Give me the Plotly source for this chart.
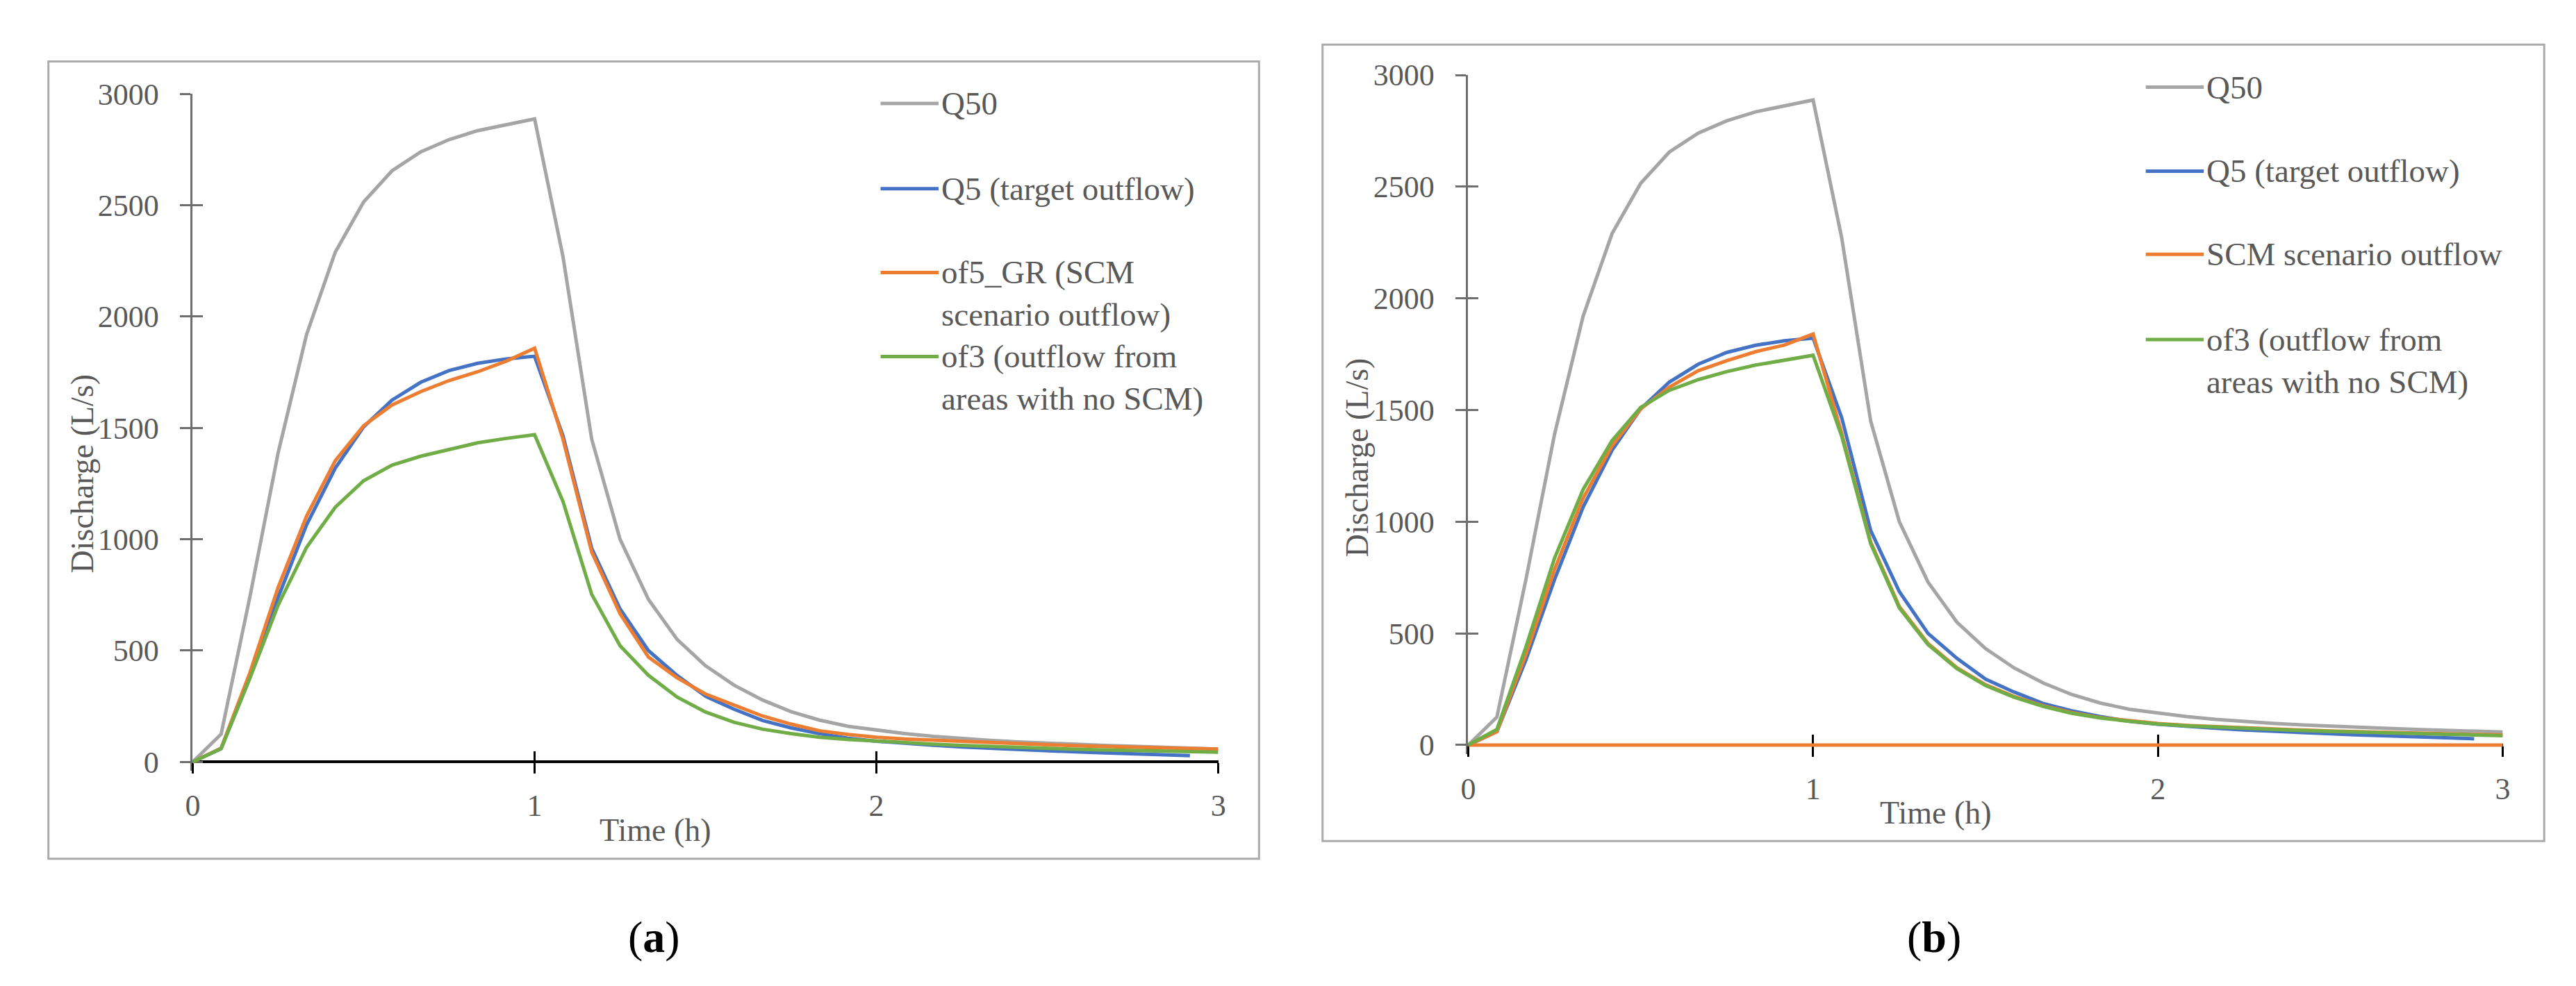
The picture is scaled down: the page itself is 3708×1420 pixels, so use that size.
import plotly.graph_objects as go

# time axis (h), 5-minute steps
time_h = [0, 0.083, 0.167, 0.25, 0.333, 0.417, 0.5, 0.583, 0.667, 0.75, 0.833, 0.917, 1.0,
          1.083, 1.167, 1.25, 1.333, 1.417, 1.5, 1.583, 1.667, 1.75, 1.833, 1.917, 2.0,
          2.083, 2.167, 2.25, 2.333, 2.417, 2.5, 2.583, 2.667, 2.75, 2.833, 2.917, 3.0]

# discharge (L/s), shared by both panels
q50 = [0, 125, 740, 1390, 1920, 2290, 2515, 2655, 2740, 2795, 2835, 2862, 2888,
       2270, 1450, 1000, 730, 550, 432, 345, 278, 226, 188, 160, 142,
       127, 115, 105, 97, 90, 84, 79, 74, 70, 66, 62, 58]
q5 = [0, 60, 380, 740, 1065, 1320, 1505, 1625, 1705, 1758, 1790, 1810, 1822,
      1465, 960, 687, 500, 388, 295, 237, 186, 153, 127, 106, 93,
      83, 75, 67, 61, 55, 50, 45, 41, 37, 33, 28, None]

# panel (a)
of5_gr = [0, 62, 400, 785, 1104, 1353, 1510, 1603, 1663, 1713, 1752, 1800, 1858,
          1450, 943, 666, 471, 378, 305, 256, 206, 170, 140, 123, 111,
          103, 97, 91, 86, 81, 77, 73, 69, 66, 63, 60, 58]
of3_a = [0, 60, 375, 705, 964, 1144, 1263, 1333, 1373, 1403, 1433, 1453, 1470,
         1170, 753, 522, 389, 291, 224, 178, 147, 127, 111, 101, 93,
         86, 80, 74, 69, 65, 61, 57, 54, 51, 48, 46, 44]

# panel (b)
scm_b = [0, 60, 405, 785, 1105, 1340, 1505, 1602, 1676, 1721, 1761, 1791, 1840,
         1395, 908, 620, 455, 346, 270, 217, 176, 145, 123, 108, 96,
         88, 82, 76, 71, 67, 63, 59, 56, 53, 50, 47, 45]
scm_b_base_t = [0, 3]
scm_b_base = [0, 0]
of3_b = [0, 70, 438, 836, 1144, 1363, 1512, 1588, 1636, 1672, 1701, 1725, 1745,
         1382, 901, 614, 450, 342, 266, 214, 173, 142, 121, 106, 94,
         86, 80, 74, 69, 65, 61, 57, 54, 51, 48, 45, 42]

x_ticks = [0, 1, 2, 3]
y_ticks = [0, 500, 1000, 1500, 2000, 2500, 3000]

GREY = '#A5A5A5'
BLUE = '#4472C4'
ORANGE = '#ED7D31'
GREEN = '#70AD47'
TXT = '#595959'
FONT = 'Liberation Serif'

W, H = 3708, 1420
Y_MIN = -40


def px(x):
    return x / W


def py(y):
    return 1 - y / H


fig = go.Figure()

# --------------------------
# traces
panels = [
    ('x', 'y', [('Q50', time_h, q50, GREY), ('Q5 (target outflow)', time_h, q5, BLUE),
                ('of5_GR (SCM scenario outflow)', time_h, of5_gr, ORANGE),
                ('of3 (outflow from areas with no SCM)', time_h, of3_a, GREEN)]),
    ('x2', 'y2', [('Q50', time_h, q50, GREY), ('Q5 (target outflow)', time_h, q5, BLUE),
                  ('SCM scenario outflow', time_h, scm_b, ORANGE),
                  ('SCM scenario outflow', scm_b_base_t, scm_b_base, ORANGE),
                  ('of3 (outflow from areas with no SCM)', time_h, of3_b, GREEN)]),
]
for xa, ya, series in panels:
    for name, xs, ys, col in series:
        fig.add_trace(go.Scatter(x=xs, y=ys, name=name, mode='lines', xaxis=xa, yaxis=ya,
                                 line=dict(color=col, width=5), showlegend=False))

# invisible traces so the overlay (cross-tick) axes get drawn
for xa, ya in [('x3', 'y3'), ('x4', 'y4')]:
    fig.add_trace(go.Scatter(x=time_h, y=q50, xaxis=xa, yaxis=ya, mode='lines',
                             opacity=0, hoverinfo='skip', showlegend=False))


# --------------------------
# axes
def x_main(domain, pos):
    return dict(domain=domain, range=[0, 3], anchor='free', position=pos,
                showline=True, linecolor='black', linewidth=4,
                ticks='outside', ticklen=15, tickwidth=3, tickcolor='black',
                tickvals=x_ticks, tickfont=dict(size=44, color=TXT, family=FONT),
                ticklabelstandoff=8, showgrid=False, zeroline=False, layer='below traces')


def x_cross(over, pos):
    return dict(overlaying=over, range=[0, 3], anchor='free', position=pos,
                ticks='inside', ticklen=15, tickwidth=3, tickcolor='black',
                tickvals=x_ticks, showticklabels=False, showline=False,
                showgrid=False, zeroline=False, layer='below traces')


def y_main(domain, anchor):
    return dict(domain=domain, range=[Y_MIN, 3000], anchor=anchor,
                showline=True, linecolor='#6E6E6E', linewidth=3,
                ticks='outside', ticklen=15, tickwidth=3, tickcolor='#6E6E6E',
                tickvals=y_ticks, tickfont=dict(size=44, color=TXT, family=FONT),
                ticklabelstandoff=22, showgrid=False, zeroline=False, layer='below traces')


def y_cross(over, anchor):
    return dict(overlaying=over, range=[Y_MIN, 3000], anchor=anchor,
                ticks='inside', ticklen=15, tickwidth=3, tickcolor='#6E6E6E',
                tickvals=y_ticks, showticklabels=False, showline=False,
                showgrid=False, zeroline=False, layer='below traces')


# pixel geometry of the two plot areas (y0 = pixel row of 0, ytop = row of 3000)
L = dict(x0=260, x3=1745, y0=1093, ytop=106)
R = dict(x0=2107, x3=3605, y0=1068, ytop=78)


def y_domain(p):
    per = (p['y0'] - p['ytop']) / 3000
    return [py(p['y0'] - Y_MIN * per), py(p['ytop'])]


fig.update_layout(
    xaxis=x_main([px(L['x0']), px(L['x3'])], py(L['y0'])),
    yaxis=y_main(y_domain(L), 'x'),
    xaxis3=x_cross('x', py(L['y0'])),
    yaxis3=y_cross('y', 'x'),
    xaxis2=x_main([px(R['x0']), px(R['x3'])], py(R['y0'])),
    yaxis2=y_main(y_domain(R), 'x2'),
    xaxis4=x_cross('x2', py(R['y0'])),
    yaxis4=y_cross('y2', 'x2'),
)

# --------------------------
# chart frames, titles, legends
shapes = []
annotations = []
for x0, y0, x1, y1 in [(51, 58, 1804, 1236), (1896, 33, 3665, 1210)]:
    shapes.append(dict(type='rect', xref='paper', yref='paper', x0=px(x0), x1=px(x1),
                       y0=py(y1), y1=py(y0), line=dict(color='#ABABAB', width=3), layer='below'))


def text(x, y, s, size=46, color=TXT, anchor='center', angle=0):
    annotations.append(dict(x=px(x), y=py(y), xref='paper', yref='paper', text=s,
                            showarrow=False, xanchor=anchor, yanchor='middle', align='left',
                            textangle=angle, font=dict(size=size, color=color, family=FONT)))


text(100, 667, 'Discharge (L/s)', angle=-90)
text(930, 1194, 'Time (h)')
text(928, 1352, '(<b>a</b>)', size=64, color='black')
text(1946, 643, 'Discharge (L/s)', angle=-90)
text(2784, 1168, 'Time (h)')
text(2782, 1352, '(<b>b</b>)', size=64, color='black')

legend_a = [('Q50', GREY, 120, 120), ('Q5 (target outflow)', BLUE, 246, 246),
            ('of5_GR (SCM<br>scenario outflow)', ORANGE, 370, 401),
            ('of3 (outflow from<br>areas with no SCM)', GREEN, 494, 525)]
legend_b = [('Q50', GREY, 96, 96), ('Q5 (target outflow)', BLUE, 220, 220),
            ('SCM scenario outflow', ORANGE, 343, 343),
            ('of3 (outflow from<br>areas with no SCM)', GREEN, 469, 500)]
for items, lx0, lx1 in [(legend_a, 1256, 1340), (legend_b, 3088, 3172)]:
    for label, col, yline, ytext in items:
        shapes.append(dict(type='line', xref='paper', yref='paper', x0=px(lx0), x1=px(lx1),
                           y0=py(yline), y1=py(yline), line=dict(color=col, width=5)))
        text(lx1 + 2, ytext, label, size=47, anchor='left')

fig.update_layout(
    width=W, height=H,
    margin=dict(l=0, r=0, t=0, b=0),
    paper_bgcolor='white', plot_bgcolor='white',
    font=dict(family=FONT, color=TXT),
    showlegend=False,
    shapes=shapes,
    annotations=annotations,
)

fig.write_html("out.html")
